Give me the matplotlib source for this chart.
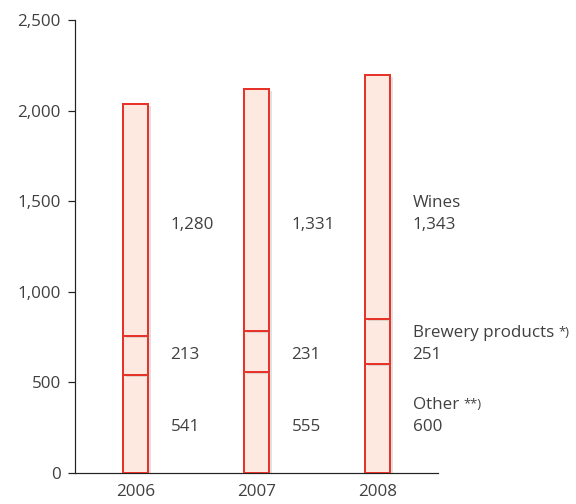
import matplotlib
matplotlib.use("Agg")
import matplotlib.pyplot as plt
import matplotlib.patheffects as pe

# Sales by product group
years = ["2006", "2007", "2008"]
other = [541, 555, 600]
brewery = [213, 231, 251]
wines = [1280, 1331, 1343]

yticks = [0, 500, 1000, 1500, 2000, 2500]
ytick_labels = ["0", "500", "1,000", "1,500", "2,000", "2,500"]

plt.rcParams["font.family"] = ["Open Sans", "DejaVu Sans"]
TXT = "#404040"
RED = "#e8332a"
FILL = "#fde9df"
FS = 17

fig = plt.figure(figsize=(8, 7), dpi=72)
ax = fig.add_axes([0.1302, 0.0615, 0.6302, 0.8988])

x = list(range(len(years)))
width = 0.21
shadow = [pe.SimplePatchShadow(offset=(3, -2), shadow_rgbFace="#888888", alpha=0.25),
          pe.Normal()]

bottom2 = [o + b for o, b in zip(other, brewery)]
for vals, bot in [(other, [0, 0, 0]), (brewery, other), (wines, bottom2)]:
    bars = ax.bar(x, vals, width, bottom=bot, color=FILL, edgecolor=RED,
                  linewidth=2, zorder=3)
    for b in bars:
        b.set_path_effects(shadow)

ax.set_xlim(-0.5, 2.5)
ax.set_ylim(0, 2500)
ax.set_yticks(yticks)
ax.set_yticklabels(ytick_labels)
ax.set_xticks(x)
ax.set_xticklabels(years)

for side in ("top", "right"):
    ax.spines[side].set_visible(False)
for side in ("left", "bottom"):
    ax.spines[side].set_color("#222222")
    ax.spines[side].set_linewidth(1.2)
ax.tick_params(axis="y", length=7, width=1.2, color="#222222", labelsize=FS,
               labelcolor=TXT, pad=7)
ax.tick_params(axis="x", length=0, labelsize=FS, labelcolor=TXT, pad=11)

# value labels, one row per product group
rows = [(wines, 1370, "Wines"), (brewery, 650, "Brewery products"),
        (other, 255, "Other")]
sup = {"Brewery products": "*)", "Other": "**)"}
dx = 0.29
for vals, ypos, name in rows:
    for i, v in enumerate(vals):
        ax.text(i + dx, ypos, f"{v:,}", fontsize=FS, color=TXT,
                ha="left", va="center")
    t = ax.text(len(vals) - 1 + dx, ypos + 122, name, fontsize=FS,
                color=TXT, ha="left", va="center")
    if name in sup:
        ax.annotate(sup[name], xy=(1, 1), xycoords=t, xytext=(5, -1),
                    textcoords="offset points", fontsize=13, color=TXT,
                    ha="left", va="top")

fig.savefig("out.png", dpi=72)
